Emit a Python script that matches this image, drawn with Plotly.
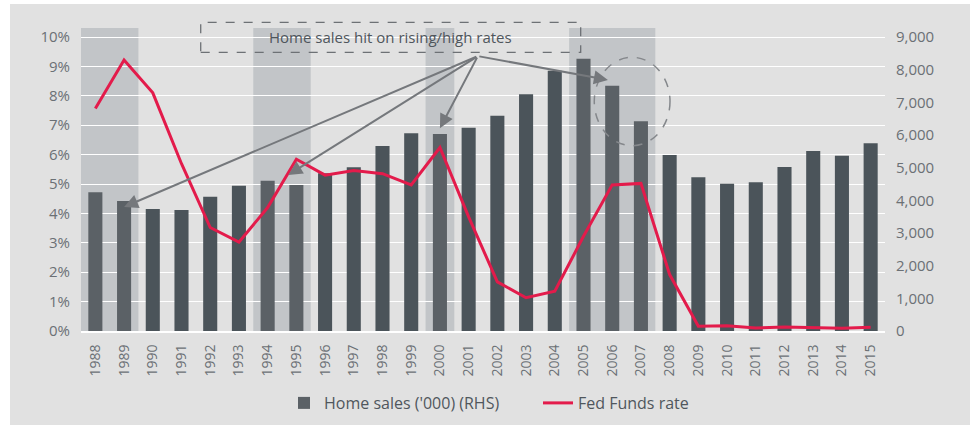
import plotly.graph_objects as go

years = list(range(1988, 2016))
home_sales = [4250, 3980, 3734, 3705, 4111, 4450, 4600, 4469, 4826, 5010,
              5663, 6050, 6030, 6224, 6592, 7245, 7968, 8337, 7510, 6418,
              5388, 4704, 4510, 4551, 5020, 5510, 5367, 5745]
fed_funds = [7.57, 9.22, 8.10, 5.69, 3.52, 3.02, 4.20, 5.84, 5.30, 5.46,
             5.35, 4.97, 6.24, 3.88, 1.67, 1.13, 1.35, 3.22, 4.97, 5.02,
             1.92, 0.16, 0.18, 0.10, 0.14, 0.11, 0.09, 0.13]
shaded_periods = [(1988, 1989), (1994, 1995), (2000, 2000), (2005, 2007)]
# arrows point at the years where sales were hit
arrow_targets = [(1989.0, 4.22), (1994.72, 5.31), (2000.0, 6.9), (2005.85, 8.54)]
arrow_tail = (2001.32, 9.35)

left_ticks = list(range(0, 11))
right_ticks = list(range(0, 10000, 1000))

FONT = "Open Sans"
GREY_TXT = "#6b7075"
BAR = "#4b545a"
BAR_SHADED = "#5b6166"
RED = "#e31b4b"

def in_shade(y):
    return any(a <= y <= b for a, b in shaded_periods)

bar_colors = [BAR_SHADED if in_shade(y) else BAR for y in years]

fig = go.Figure()
fig.add_trace(go.Bar(x=years, y=home_sales, name="Home sales ('000) (RHS)",
                     marker=dict(color=bar_colors, line=dict(width=0)),
                     width=0.49, yaxis="y"))
fig.add_trace(go.Scatter(x=years, y=fed_funds, name="Fed Funds rate",
                         mode="lines", line=dict(color=RED, width=3),
                         yaxis="y2"))

# white strips at top and left of the grey panel
shapes = [dict(type="rect", xref="paper", yref="paper",
               x0=-0.2, x1=1.2, y0=1.0792, y1=1.3,
               fillcolor="white", line=dict(width=0), layer="below"),
          dict(type="rect", xref="paper", yref="paper",
               x0=-0.2, x1=-0.0883, y0=-0.5, y1=1.3,
               fillcolor="white", line=dict(width=0), layer="below")]
for a, b in shaded_periods:
    shapes.append(dict(type="rect", xref="x", yref="paper",
                       x0=a - 0.5, x1=b + 0.5, y0=0, y1=1,
                       fillcolor="#c2c5c8", line=dict(width=0), layer="below"))
shapes.append(dict(type="rect", xref="paper", yref="paper",
                   x0=0.1489, x1=0.6215, y0=0.9198, y1=1.0188,
                   line=dict(color="#6d7175", width=1.3, dash="dash"),
                   fillcolor="rgba(0,0,0,0)", layer="above"))
shapes.append(dict(type="circle", xref="paper", yref="paper",
                   x0=0.6384, x1=0.7326, y0=0.6116, y1=0.9033,
                   line=dict(color="#85888c", width=1.5, dash="dash"),
                   layer="above"))

annotations = [dict(text="Home sales hit on rising/high rates", xref="paper",
                    yref="paper", x=0.3852, y=0.9693, showarrow=False,
                    xanchor="center", yanchor="middle",
                    font=dict(family=FONT, size=15, color="#4f565c"))]
for tx, ty in arrow_targets:
    annotations.append(dict(text="", x=tx, y=ty, xref="x", yref="y2",
                            ax=arrow_tail[0], ay=arrow_tail[1],
                            axref="x", ayref="y2", showarrow=True,
                            arrowhead=2, arrowsize=1.4, arrowwidth=2,
                            arrowcolor="#75787c", standoff=0))

fig.update_layout(
    width=970, height=425,
    margin=dict(l=81, r=85, t=28, b=94, autoexpand=False),
    paper_bgcolor="#e1e1e1", plot_bgcolor="rgba(0,0,0,0)",
    font=dict(family=FONT, size=15, color=GREY_TXT),
    shapes=shapes, annotations=annotations,
    showlegend=True,
    legend=dict(orientation="h", x=0.2525, y=-0.2376, xanchor="left",
                yanchor="middle", font=dict(size=16, color="#50575d"),
                bgcolor="rgba(0,0,0,0)", traceorder="normal",
                entrywidth=209),
    xaxis=dict(range=[1987.5, 2015.5], tickvals=years,
               ticktext=[str(y) for y in years], tickangle=-90,
               tickfont=dict(size=14, color=GREY_TXT), showgrid=False,
               showline=True, linecolor="white", linewidth=2,
               zeroline=False, ticks="", ticklabelstandoff=6,
               automargin=False),
    yaxis=dict(side="right", range=[0, 9275.5], tickvals=right_ticks,
               tickformat=",", showgrid=False, zeroline=False,
               tickfont=dict(size=15, color=GREY_TXT), ticks="",
               ticklabelstandoff=10, automargin=False),
    yaxis2=dict(side="left", overlaying="y", range=[0, 10.306],
                tickvals=left_ticks, ticktext=[f"{v}%" for v in left_ticks],
                showgrid=True, gridcolor="white", gridwidth=1, zeroline=False,
                tickfont=dict(size=15, color=GREY_TXT), ticks="",
                ticklabelstandoff=10, automargin=False),
)

fig.write_html("out.html", config={"displayModeBar": False},
               post_script="document.body.style.margin='0';"
                           "document.body.style.overflow='hidden';")
